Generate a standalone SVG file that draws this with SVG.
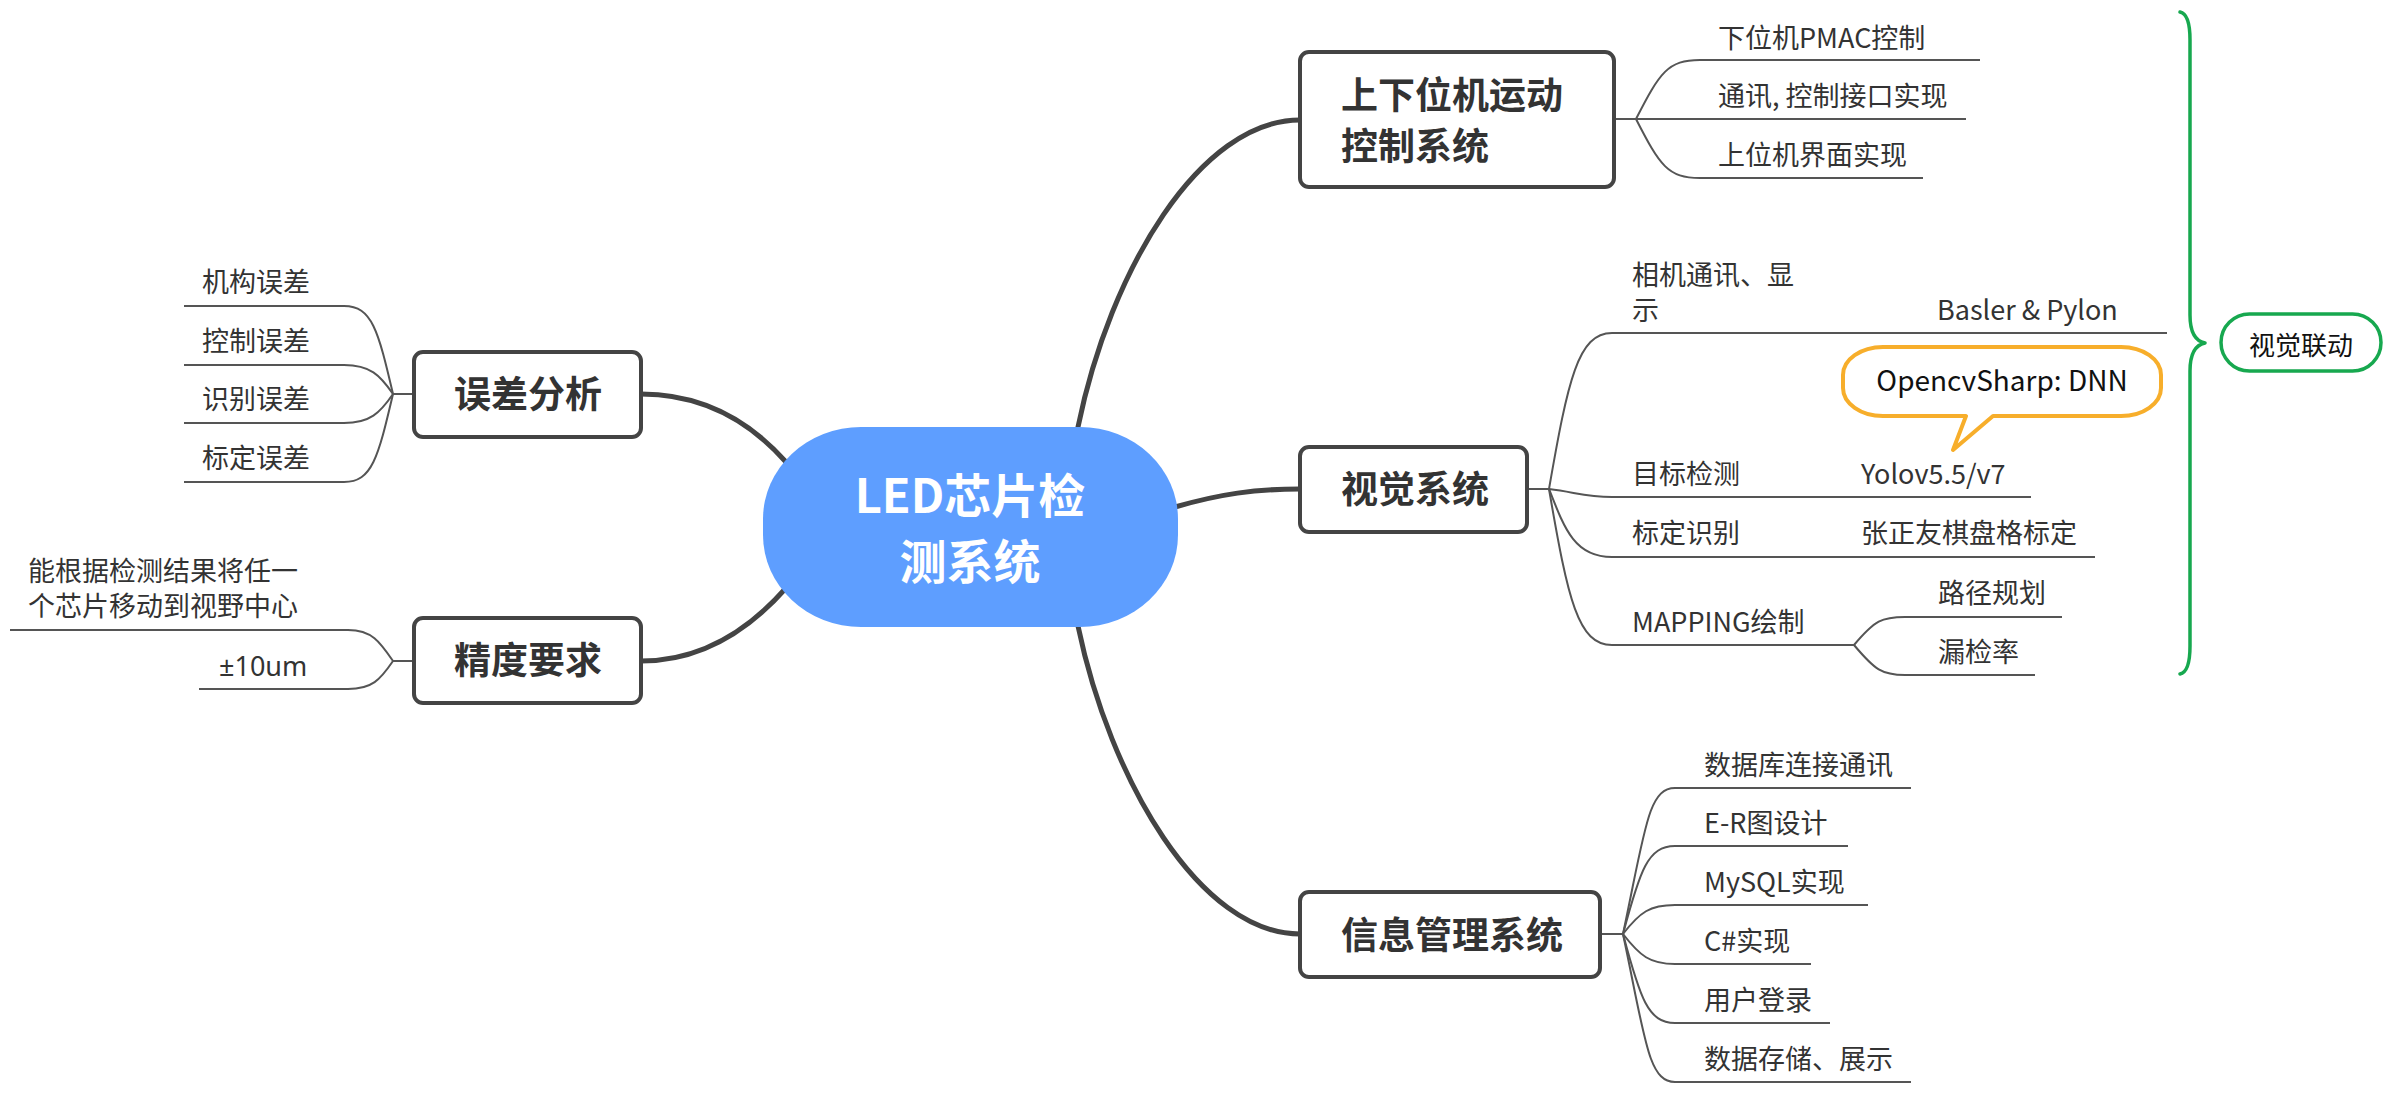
<svg xmlns="http://www.w3.org/2000/svg" width="2390" height="1105" viewBox="0 0 2390 1105">
<style>
text{font-family:"Noto Sans CJK SC","Noto Sans",sans-serif}
.thick{fill:none;stroke:#444;stroke-width:5;stroke-linecap:round}
.thin{fill:none;stroke:#555;stroke-width:2}
.ul{stroke:#555;stroke-width:2}
.box{fill:#fff;stroke:#444;stroke-width:4}
.tmain{font-size:47px;font-weight:700;fill:#fff}
.tbox{font-size:37px;font-weight:700;fill:#333}
.tsub{font-size:27px;fill:#333}
.lat{font-family:"Noto Sans","Liberation Sans",sans-serif}
</style>
<rect width="2390" height="1105" fill="#fff"/>
<g id="connectors">
<path class="thick" d="M1078,427 C1110,270 1200,120 1300,120"/>
<path class="thick" d="M1175,507 C1220,494 1255,489 1300,489"/>
<path class="thick" d="M1078,626 C1110,780 1200,934 1300,934"/>
<path class="thick" d="M786,462 C740,410 690,394 641,394"/>
<path class="thick" d="M786,588 C740,640 690,661 641,661"/>
<path class="thin" d="M1614,119 H1700"/>
<path class="thin" d="M1636,119 C1660,72 1668,60 1700,60"/>
<path class="thin" d="M1636,119 C1660,166 1668,178 1700,178"/>
<path class="thin" d="M1527,489 H1549"/>
<path class="thin" d="M1549,489 C1568,380 1578,333 1612,333"/>
<path class="thin" d="M1549,489 C1575,492 1585,497 1612,497"/>
<path class="thin" d="M1549,489 C1565,530 1575,557 1612,557"/>
<path class="thin" d="M1549,489 C1568,600 1578,645 1612,645"/>
<path class="thin" d="M1854,645 C1875,620 1882,617 1905,617"/>
<path class="thin" d="M1854,645 C1875,670 1882,675 1905,675"/>
<path class="thin" d="M1600,934 H1623"/>
<path class="thin" d="M1623,934 C1645,830 1648,788 1675,788"/>
<path class="thin" d="M1623,934 C1640,870 1648,846 1675,846"/>
<path class="thin" d="M1623,934 C1640,912 1650,905 1675,905"/>
<path class="thin" d="M1623,934 C1640,956 1650,964 1675,964"/>
<path class="thin" d="M1623,934 C1640,998 1648,1023 1675,1023"/>
<path class="thin" d="M1623,934 C1645,1038 1648,1082 1675,1082"/>
<path class="thin" d="M414,394 H393"/>
<path class="thin" d="M393,394 C378,330 372,306 344,306"/>
<path class="thin" d="M393,394 C380,375 370,365 344,365"/>
<path class="thin" d="M393,394 C380,413 370,423 344,423"/>
<path class="thin" d="M393,394 C378,458 372,482 344,482"/>
<path class="thin" d="M414,661 H393"/>
<path class="thin" d="M393,661 C380,642 372,630 348,630"/>
<path class="thin" d="M393,661 C380,680 372,689 348,689"/>
</g>
<g id="central">
<rect x="763" y="427" width="415" height="200" rx="98" ry="92" fill="#5E9EFF"/>
<text class="tmain" x="970" y="513" text-anchor="middle">LED芯片检</text>
<text class="tmain" x="970" y="579" text-anchor="middle">测系统</text>
</g>
<g id="motion">
<rect class="box" x="1300" y="52" width="314" height="135" rx="9"/>
<text class="tbox" x="1341" y="109">上下位机运动</text>
<text class="tbox" x="1341" y="160">控制系统</text>
</g>
<g id="motion-1"><line class="ul" x1="1700" y1="60" x2="1980" y2="60"/><text class="tsub" x="1718" y="48">下位机PMAC控制</text></g>
<g id="motion-2"><line class="ul" x1="1700" y1="119" x2="1966" y2="119"/><text class="tsub" x="1718" y="106">通讯, 控制接口实现</text></g>
<g id="motion-3"><line class="ul" x1="1700" y1="178" x2="1923" y2="178"/><text class="tsub" x="1718" y="165">上位机界面实现</text></g>
<g id="vision">
<rect class="box" x="1300" y="447" width="227" height="85" rx="9"/>
<text class="tbox" x="1341" y="503">视觉系统</text>
</g>
<g id="vision-1"><line class="ul" x1="1612" y1="333" x2="2167" y2="333"/><text class="tsub" x="1632" y="285">相机通讯、显</text><text class="tsub" x="1632" y="320">示</text></g>
<g id="vision-1a"><text class="tsub" x="1937" y="320">Basler &amp; Pylon</text></g>
<g id="vision-2"><line class="ul" x1="1612" y1="497" x2="2031" y2="497"/><text class="tsub" x="1632" y="484">目标检测</text></g>
<g id="vision-2a"><text class="tsub" x="1861" y="484">Yolov5.5/v7</text></g>
<g id="callout">
<path d="M1883,347 H2121 A40,28 0 0 1 2161,375 V388 A40,28 0 0 1 2121,416 H1993 L1953,450 L1966,416 H1883 A40,28 0 0 1 1843,388 V375 A40,28 0 0 1 1883,347 Z" fill="#fff" stroke="#F7AE2B" stroke-width="4" stroke-linejoin="round"/>
<text x="2002" y="391" text-anchor="middle" font-size="28" fill="#111">OpencvSharp: DNN</text>
</g>
<g id="vision-3"><line class="ul" x1="1612" y1="557" x2="2095" y2="557"/><text class="tsub" x="1632" y="543">标定识别</text></g>
<g id="vision-3a"><text class="tsub" x="1861" y="543">张正友棋盘格标定</text></g>
<g id="vision-4"><line class="ul" x1="1612" y1="645" x2="1854" y2="645"/><text class="tsub" x="1632" y="632">MAPPING绘制</text></g>
<g id="vision-4a"><line class="ul" x1="1905" y1="617" x2="2062" y2="617"/><text class="tsub" x="1938" y="603">路径规划</text></g>
<g id="vision-4b"><line class="ul" x1="1905" y1="675" x2="2035" y2="675"/><text class="tsub" x="1938" y="662">漏检率</text></g>
<g id="info">
<rect class="box" x="1300" y="892" width="300" height="85" rx="9"/>
<text class="tbox" x="1341" y="949">信息管理系统</text>
</g>
<g id="info-1"><line class="ul" x1="1675" y1="788" x2="1911" y2="788"/><text class="tsub" x="1704" y="775">数据库连接通讯</text></g>
<g id="info-2"><line class="ul" x1="1675" y1="846" x2="1848" y2="846"/><text class="tsub" x="1704" y="833">E-R图设计</text></g>
<g id="info-3"><line class="ul" x1="1675" y1="905" x2="1868" y2="905"/><text class="tsub" x="1704" y="892">MySQL实现</text></g>
<g id="info-4"><line class="ul" x1="1675" y1="964" x2="1811" y2="964"/><text class="tsub" x="1704" y="951">C#实现</text></g>
<g id="info-5"><line class="ul" x1="1675" y1="1023" x2="1830" y2="1023"/><text class="tsub" x="1704" y="1010">用户登录</text></g>
<g id="info-6"><line class="ul" x1="1675" y1="1082" x2="1911" y2="1082"/><text class="tsub" x="1704" y="1069">数据存储、展示</text></g>
<g id="error">
<rect class="box" x="414" y="352" width="227" height="85" rx="9"/>
<text class="tbox" x="454" y="408">误差分析</text>
</g>
<g id="error-1"><line class="ul" x1="184" y1="306" x2="344" y2="306"/><text class="tsub" x="202" y="292">机构误差</text></g>
<g id="error-2"><line class="ul" x1="184" y1="365" x2="344" y2="365"/><text class="tsub" x="202" y="351">控制误差</text></g>
<g id="error-3"><line class="ul" x1="184" y1="423" x2="344" y2="423"/><text class="tsub" x="202" y="409">识别误差</text></g>
<g id="error-4"><line class="ul" x1="184" y1="482" x2="344" y2="482"/><text class="tsub" x="202" y="468">标定误差</text></g>
<g id="precision">
<rect class="box" x="414" y="618" width="227" height="85" rx="9"/>
<text class="tbox" x="454" y="674">精度要求</text>
</g>
<g id="precision-1"><line class="ul" x1="10" y1="630" x2="348" y2="630"/><text class="tsub" x="28" y="581">能根据检测结果将任一</text><text class="tsub" x="28" y="616">个芯片移动到视野中心</text></g>
<g id="precision-2"><line class="ul" x1="199" y1="689" x2="348" y2="689"/><text class="tsub lat" x="219" y="676">±10um</text></g>
<g id="boundary">
<path d="M2180,12 Q2190,14 2190,40 V315 Q2190,340 2205,343 Q2190,346 2190,371 V646 Q2190,672 2180,674" fill="none" stroke="#17A84F" stroke-width="3.5" stroke-linecap="round" stroke-linejoin="round"/>
<rect x="2221" y="314" width="160" height="57" rx="28.5" fill="#fff" stroke="#17A84F" stroke-width="3.5"/>
<text x="2301" y="355" text-anchor="middle" font-size="26" fill="#111">视觉联动</text>
</g>
</svg>
